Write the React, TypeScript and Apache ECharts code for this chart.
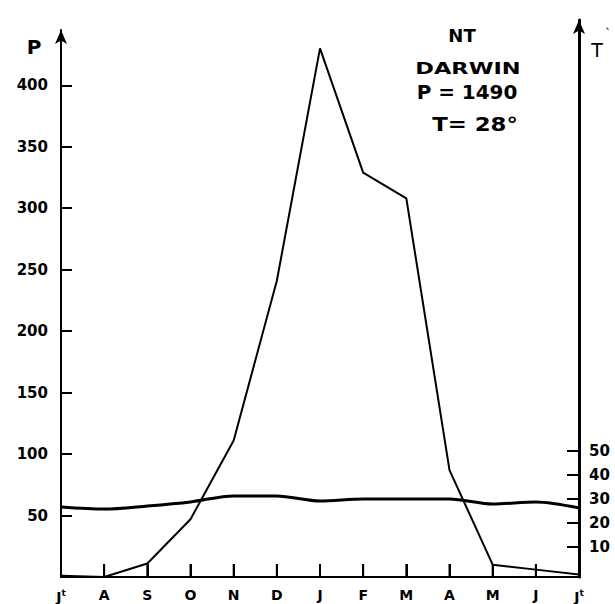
import React, { useEffect, useRef } from "react";
import * as echarts from "echarts";

const months = ["Jt", "A", "S", "O", "N", "D", "J", "F", "M", "A", "M", "J", "Jt"];
const precipitation = [1, 0, 11, 47, 111, 241, 430, 329, 308, 87, 10, 6, 2];
const temperature = [26.7, 25.8, 27.1, 28.8, 31.3, 31.3, 29.2, 30, 30, 30, 27.9, 28.8, 26.3];
const pTicks = [50, 100, 150, 200, 250, 300, 350, 400];
const tTicks = [10, 20, 30, 40, 50];

const FONT = "DejaVu Sans";

export default function App() {
  const ref = useRef<HTMLDivElement>(null);
  useEffect(() => {
    if (!ref.current) return;
    const chart = echarts.init(ref.current, null, { renderer: "svg" });
    const labelFmt = (v: number) => {
      const m = months[Math.round(v)] ?? "";
      return m === "Jt" ? "{m|J}{s|t}" : m;
    };
    const monthIdx = months.map((_, i) => i);
    const pData = precipitation.map((v, i) => [i, v]);
    const tData = temperature.map((v, i) => [i, v]);
    // month tick marks on the baseline (~13px high in P-axis units)
    const tickBars = monthIdx.slice(1, -1).map((i) => [i, 10.6]);
    chart.setOption({
      animation: false,
      backgroundColor: "#ffffff",
      grid: [
        { left: 61, right: 36, top: 30, bottom: 27 },
        { left: 61, right: 36, top: 20, bottom: 27 },
      ],
      xAxis: [
        {
          type: "value",
          gridIndex: 0,
          min: 0,
          max: months.length - 1,
          interval: 1,
          axisLine: { show: true, onZero: false, lineStyle: { color: "#000", width: 2 } },
          axisTick: { show: true, inside: true, length: 13, customValues: monthIdx, lineStyle: { color: "#000", width: 2 } },
          axisLabel: {
            customValues: monthIdx,
            margin: 11,
            color: "#000",
            fontFamily: FONT,
            fontWeight: "bold",
            fontSize: 14,
            formatter: labelFmt,
            rich: {
              m: { fontFamily: FONT, fontWeight: "bold", fontSize: 14, color: "#000", lineHeight: 17 },
              s: { fontFamily: FONT, fontWeight: "bold", fontSize: 9, color: "#000", verticalAlign: "top", lineHeight: 17 },
            },
          },
          splitLine: { show: false },
        },
        {
          type: "value",
          gridIndex: 1,
          min: 0,
          max: months.length - 1,
          interval: 1,
          show: false,
        },
      ],
      yAxis: [
        {
          type: "value",
          gridIndex: 0,
          position: "left",
          min: 0,
          max: 445,
          axisLine: {
            show: true,
            onZero: false,
            symbol: ["none", "arrow"],
            symbolSize: [9, 14],
            lineStyle: { color: "#000", width: 2 },
          },
          axisTick: {
            show: true,
            inside: true,
            length: 11,
            customValues: pTicks,
            lineStyle: { color: "#000", width: 2 },
          },
          axisLabel: {
            customValues: pTicks,
            margin: 13,
            color: "#000",
            fontFamily: FONT,
            fontWeight: "bold",
            fontSize: 15,
          },
          splitLine: { show: false },
        },
        {
          type: "value",
          gridIndex: 1,
          position: "right",
          min: -2.5,
          max: 229.6,
          axisLine: {
            show: true,
            onZero: false,
            symbol: ["none", "arrow"],
            symbolSize: [9, 14],
            lineStyle: { color: "#000", width: 3 },
          },
          axisTick: {
            show: true,
            inside: true,
            length: 12,
            customValues: tTicks,
            lineStyle: { color: "#000", width: 2 },
          },
          axisLabel: {
            customValues: tTicks,
            margin: 10,
            color: "#000",
            fontFamily: FONT,
            fontWeight: "bold",
            fontSize: 15,
          },
          splitLine: { show: false },
        },
      ],
      series: [
        {
          name: "ticks",
          type: "bar",
          xAxisIndex: 0,
          yAxisIndex: 0,
          data: tickBars,
          barWidth: 2,
          itemStyle: { color: "#000" },
          silent: true,
          z: 2,
        },
        {
          name: "P",
          type: "line",
          xAxisIndex: 0,
          yAxisIndex: 0,
          data: pData,
          symbol: "none",
          lineStyle: { color: "#000", width: 2 },
          z: 3,
        },
        {
          name: "T",
          type: "line",
          xAxisIndex: 1,
          yAxisIndex: 1,
          data: tData,
          symbol: "none",
          smooth: 0.3,
          lineStyle: { color: "#000", width: 3 },
          z: 3,
        },
      ],
      graphic: [
        {
          type: "text",
          x: 34,
          y: 47,
          style: { text: "P", fontFamily: FONT, fontWeight: "bold", fontSize: 20, fill: "#000", textAlign: "center", textVerticalAlign: "middle" },
        },
        {
          type: "text",
          x: 597,
          y: 50,
          style: { text: "T", fontFamily: FONT, fontSize: 19, fill: "#000", textAlign: "center", textVerticalAlign: "middle" },
        },
        {
          type: "text",
          x: 608,
          y: 34,
          style: { text: "`", fontFamily: FONT, fontSize: 12, fill: "#000", textAlign: "center", textVerticalAlign: "middle" },
        },
        {
          type: "text",
          x: 462,
          y: 35,
          style: { text: "NT", fontFamily: FONT, fontWeight: "bold", fontSize: 18, fill: "#000", textAlign: "center", textVerticalAlign: "middle" },
        },
        {
          type: "text",
          x: 468,
          y: 69,
          scaleX: 1.5,
          style: { text: "DARWIN", fontFamily: FONT, fontWeight: "bold", fontSize: 15, fill: "#000", textAlign: "center", textVerticalAlign: "middle" },
        },
        {
          type: "text",
          x: 467,
          y: 93,
          scaleX: 1.05,
          style: { text: "P = 1490", fontFamily: FONT, fontWeight: "bold", fontSize: 19, fill: "#000", textAlign: "center", textVerticalAlign: "middle" },
        },
        {
          type: "text",
          x: 475,
          y: 125,
          scaleX: 1.2,
          style: { text: "T= 28°", fontFamily: FONT, fontWeight: "bold", fontSize: 19, fill: "#000", textAlign: "center", textVerticalAlign: "middle" },
        },
      ],
    });
    return () => chart.dispose();
  }, []);
  return <div ref={ref} style={{ width: 615, height: 604, position: "absolute", left: 0, top: 0 }} />;
}
